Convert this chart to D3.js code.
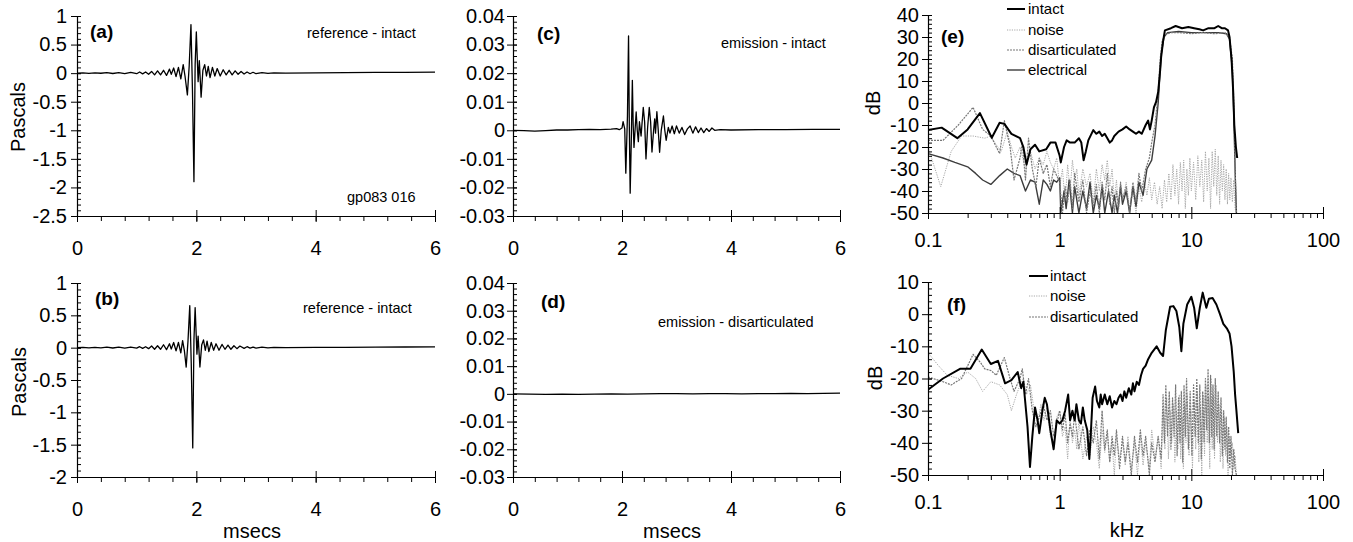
<!DOCTYPE html>
<html><head><meta charset="utf-8">
<script src="https://cdn.jsdelivr.net/npm/d3@7"></script>
<style>
body{margin:0;background:#fff;}
svg{display:block;font-family:"Liberation Sans",Arial,Helvetica,sans-serif;}
</style></head><body>
<svg id="c" width="1353" height="542"></svg>
<script>
// ---------- DATA ----------
const timeTicks = [0, 2, 4, 6];
const pascalTicksA = [1, 0.5, 0, -0.5, -1, -1.5, -2, -2.5];
const pascalTicksB = [1, 0.5, 0, -0.5, -1, -1.5, -2];
const emissionTicks = [0.04, 0.03, 0.02, 0.01, 0, -0.01, -0.02, -0.03];
const freqTicks = [0.1, 1, 10, 100];
const dbTicksE = [40, 30, 20, 10, 0, -10, -20, -30, -40, -50];
const dbTicksF = [10, 0, -10, -20, -30, -40, -50];
const legendE = ["intact", "noise", "disarticulated", "electrical"];
const legendF = ["intact", "noise", "disarticulated"];

// panel (a): [msec, Pascals]
const refIntactA = [[0,0],[0.1,0.005],[0.2,-0.005],[0.3,0.006],[0.4,-0.002],[0.5,0.01],[0.6,-0.006],[0.7,0.01],[0.8,-0.01],[0.9,0.012],[1.0,-0.01],[1.05,0.02],[1.1,-0.012],[1.15,0.02],[1.2,-0.02],[1.25,0.03],[1.3,-0.03],[1.35,0.04],[1.4,-0.03],[1.45,0.05],[1.5,-0.04],[1.55,0.07],[1.58,-0.02],[1.62,0.09],[1.66,-0.06],[1.7,0.1],[1.74,-0.1],[1.78,0.15],[1.81,-0.05],[1.85,-0.38],[1.88,0.12],[1.91,0.85],[1.935,-0.3],[1.96,-1.9],[1.98,0.15],[2.0,0.72],[2.03,-0.15],[2.05,0.22],[2.08,-0.42],[2.11,0.05],[2.14,0.15],[2.17,-0.05],[2.2,0.12],[2.23,-0.08],[2.27,0.1],[2.31,-0.05],[2.35,0.08],[2.4,-0.05],[2.45,0.06],[2.5,-0.03],[2.55,0.05],[2.6,-0.03],[2.65,0.04],[2.7,-0.02],[2.75,0.03],[2.8,-0.015],[2.85,0.02],[2.9,-0.01],[2.95,0.015],[3.0,-0.01],[3.1,0.01],[3.2,-0.005],[3.3,0.004],[3.5,0.002],[4.0,0.006],[4.5,0.01],[5.0,0.012],[5.5,0.015],[6.0,0.018]];
// panel (b)
const refIntactB = [[0,0],[0.1,0.004],[0.2,-0.004],[0.3,0.005],[0.4,-0.002],[0.5,0.008],[0.6,-0.005],[0.7,0.008],[0.8,-0.008],[0.9,0.01],[1.0,-0.008],[1.05,0.015],[1.1,-0.01],[1.15,0.015],[1.2,-0.015],[1.25,0.025],[1.3,-0.025],[1.35,0.03],[1.4,-0.025],[1.45,0.045],[1.5,-0.03],[1.55,0.06],[1.58,-0.02],[1.62,0.08],[1.66,-0.05],[1.7,0.08],[1.74,-0.08],[1.77,0.11],[1.8,-0.05],[1.83,-0.3],[1.86,0.1],[1.89,0.65],[1.915,-0.25],[1.94,-1.55],[1.96,0.12],[1.98,0.62],[2.01,-0.1],[2.03,0.18],[2.06,-0.3],[2.09,0.04],[2.12,0.12],[2.15,-0.04],[2.18,0.1],[2.21,-0.06],[2.25,0.08],[2.29,-0.04],[2.33,0.06],[2.38,-0.04],[2.43,0.05],[2.48,-0.025],[2.53,0.04],[2.58,-0.025],[2.63,0.03],[2.68,-0.015],[2.73,0.025],[2.8,-0.01],[2.85,0.015],[2.9,-0.008],[2.95,0.01],[3.0,-0.006],[3.1,0.008],[3.2,-0.004],[3.3,0.003],[3.5,0.002],[4.0,0.004],[4.5,0.006],[5.0,0.008],[5.5,0.01],[6.0,0.012]];
// panel (c): [msec, Pascals]
const emissionIntact = [[0,0],[0.2,-0.0001],[0.4,-0.0003],[0.6,-0.0001],[0.8,0.0001],[1.0,0.0001],[1.2,0.0002],[1.4,0.0003],[1.6,0.0002],[1.8,0.0004],[1.9,0.0006],[1.95,0.0002],[2.0,0.0008],[2.02,0.003],[2.05,0.0005],[2.07,-0.015],[2.1,0.005],[2.12,0.033],[2.135,0.0],[2.15,-0.022],[2.17,-0.004],[2.19,0.0175],[2.205,0.002],[2.22,-0.006],[2.26,0.0064],[2.28,0.0],[2.3,-0.004],[2.32,0.003],[2.35,-0.002],[2.39,0.008],[2.415,0.003],[2.44,-0.010],[2.47,0.001],[2.5,0.008],[2.525,0.003],[2.55,-0.0076],[2.58,0.0],[2.6,0.004],[2.615,-0.001],[2.64,0.0065],[2.665,0.0],[2.69,-0.0077],[2.72,0.0],[2.76,0.005],[2.785,0.0],[2.81,-0.0035],[2.85,0.001],[2.88,-0.001],[2.92,0.0015],[2.96,-0.0012],[3.0,0.0015],[3.05,-0.001],[3.1,0.001],[3.15,-0.0015],[3.2,0.0005],[3.25,0.0015],[3.3,-0.001],[3.35,0.0012],[3.4,-0.0008],[3.45,0.0008],[3.5,-0.0008],[3.55,0.0006],[3.6,-0.0004],[3.65,0.0008],[3.7,0.0],[3.8,0.0002],[4.0,0.0001],[4.5,0.0002],[5.0,0.0002],[5.5,0.0003],[6.0,0.0003]];
// panel (d)
const emissionDisart = [[0,0],[0.3,-0.0001],[0.6,-0.0002],[0.9,-0.0001],[1.2,-0.0002],[1.5,-0.0001],[1.8,0.0],[2.1,-0.0001],[2.4,0.0],[2.7,0.0001],[3.0,0.0001],[3.3,0.0],[3.6,0.0001],[3.9,0.0001],[4.2,0.0],[4.5,0.0001],[4.8,0.0001],[5.1,0.0002],[5.4,0.0001],[5.7,0.0002],[6.0,0.0003]];

// panel (e): [kHz, dB]
const eIntact = [[0.1,-12.3],[0.127,-11.2],[0.167,-16],[0.2,-12],[0.248,-4.6],[0.305,-15.8],[0.35,-9],[0.38,-9.5],[0.43,-14],[0.5,-16],[0.53,-20],[0.56,-28],[0.6,-21],[0.65,-19],[0.7,-22],[0.79,-21],[0.85,-18],[0.93,-18],[1.0,-24],[1.02,-27],[1.08,-20],[1.13,-17],[1.2,-18],[1.3,-18],[1.4,-16],[1.46,-18],[1.52,-26],[1.58,-22],[1.65,-17],[1.8,-12.3],[1.9,-14],[2.0,-13],[2.1,-15],[2.2,-14],[2.4,-18],[2.5,-17],[2.6,-15],[2.8,-13],[3.0,-12],[3.2,-10.7],[3.4,-12],[3.6,-13],[3.8,-14],[4.0,-13],[4.2,-14],[4.5,-10],[4.7,-8],[4.85,-12],[5.0,-8],[5.2,-2],[5.4,0.5],[5.6,5],[5.8,15],[5.9,21],[6.1,28],[6.3,33],[7,34],[7.6,35],[8.5,34],[9.5,34.5],[10.5,34],[11.5,33.5],[12.3,33],[13.5,34],[15,34],[16,35],[17,34],[18,34],[19,33],[19.5,30],[20.2,20],[20.8,5],[21.2,-10],[21.8,-20],[22.3,-25]];
const eNoise = [[0.1,-20],[0.125,-38],[0.15,-22],[0.18,-15],[0.22,-15],[0.27,-16],[0.3,-15],[0.33,-19],[0.36,-22],[0.4,-13],[0.43,-20],[0.46,-25],[0.5,-20],[0.55,-30],[0.6,-22],[0.65,-30],[0.7,-25],[0.75,-28],[0.8,-22],[0.85,-27],[0.9,-30],[0.95,-25],[1.0,-38],[1.05,-30],[1.1,-45],[1.15,-28],[1.2,-40],[1.25,-26],[1.3,-35],[1.35,-30],[1.4,-42],[1.5,-30],[1.6,-38],[1.7,-32],[1.8,-45],[1.9,-30],[2.0,-40],[2.1,-28],[2.2,-35],[2.3,-26],[2.4,-38],[2.5,-30],[2.6,-44],[2.7,-35],[2.8,-48],[2.9,-38],[3.0,-45],[3.2,-36],[3.4,-48],[3.6,-40],[3.8,-50],[4.0,-38],[4.2,-45],[4.4,-36],[4.6,-42],[4.8,-34],[5.0,-44],[5.25,-36],[5.5,-46],[5.75,-38],[6.0,-48],[6.25,-35],[6.5,-45],[6.75,-32],[7.0,-44],[7.25,-28],[7.5,-42],[7.75,-30],[8.0,-46],[8.25,-27],[8.5,-40],[8.75,-26],[9.0,-48],[9.25,-30],[9.5,-42],[9.75,-25],[10.0,-40],[10.4,-27],[10.8,-44],[11.2,-24],[11.6,-38],[12.0,-26],[12.4,-45],[12.8,-22],[13.2,-40],[13.6,-25],[14.0,-48],[14.4,-22],[14.8,-38],[15.2,-21],[15.6,-42],[16.0,-24],[16.4,-46],[16.8,-26],[17.2,-40],[17.6,-28],[18.0,-44],[18.4,-30],[18.8,-46],[19.2,-32],[19.6,-44],[20.0,-34],[20.5,-45],[21.0,-35],[21.5,-48],[22.0,-50]];
const eDisart = [[0.1,-17],[0.13,-17],[0.17,-10],[0.22,-2],[0.26,-12],[0.3,-15],[0.35,-23],[0.38,-8],[0.42,-20],[0.45,-35],[0.5,-25],[0.52,-18],[0.55,-35],[0.58,-16],[0.62,-30],[0.66,-38],[0.7,-25],[0.75,-32],[0.8,-28],[0.85,-38],[0.9,-30],[1.0,-36],[1.05,-50],[1.1,-38],[1.15,-45],[1.2,-35],[1.25,-48],[1.3,-32],[1.4,-45],[1.5,-35],[1.6,-50],[1.7,-40],[1.8,-47],[1.9,-37],[2.0,-50],[2.1,-36],[2.2,-44],[2.3,-32],[2.4,-46],[2.5,-38],[2.6,-50],[2.7,-40],[2.8,-48],[2.9,-36],[3.0,-44],[3.2,-38],[3.4,-50],[3.6,-36],[3.8,-45],[4.0,-32],[4.2,-40],[4.5,-30],[4.8,-25],[5.0,-18],[5.3,-10],[5.6,5],[5.8,20],[6.0,28],[6.3,31],[7,32],[8,32],[10,31.5],[12,32],[15,31.5],[18,32],[19.5,30],[20.5,20],[21,0],[21.5,-30],[22,-50]];
const eElectrical = [[0.1,-23],[0.13,-25],[0.16,-27],[0.2,-29],[0.23,-32],[0.26,-35],[0.3,-37],[0.35,-33],[0.4,-30],[0.45,-32],[0.5,-33],[0.55,-40],[0.6,-35],[0.65,-36],[0.7,-46],[0.75,-35],[0.8,-37],[0.85,-40],[0.9,-35],[0.95,-36],[1.0,-34],[1.02,-50],[1.08,-40],[1.12,-48],[1.18,-35],[1.25,-50],[1.3,-38],[1.4,-50],[1.5,-40],[1.6,-48],[1.7,-36],[1.8,-50],[1.9,-42],[2.0,-48],[2.1,-38],[2.2,-50],[2.35,-40],[2.5,-50],[2.6,-42],[2.75,-50],[2.9,-38],[3.0,-46],[3.2,-40],[3.4,-50],[3.6,-38],[3.8,-47],[4.0,-36],[4.3,-42],[4.6,-30],[5.0,-26],[5.3,-15],[5.6,0],[5.9,22],[6.2,30],[6.6,32],[8,32.5],[10,32],[13,32],[16,32],[18.5,31.5],[19.5,29],[20.5,15],[21,-5],[21.6,-35],[22,-50]];

// panel (f): [kHz, dB]
const fIntact = [[0.1,-23.5],[0.13,-20],[0.175,-17],[0.21,-17],[0.256,-11],[0.3,-15.5],[0.34,-14.5],[0.385,-21.5],[0.43,-20.5],[0.48,-18],[0.51,-23],[0.53,-21],[0.57,-35],[0.595,-47.5],[0.62,-38],[0.65,-29],[0.68,-33],[0.7,-37],[0.74,-30],[0.77,-26],[0.8,-28],[0.85,-36],[0.9,-42],[0.95,-33],[1.0,-34],[1.05,-33],[1.1,-30],[1.16,-25],[1.2,-33],[1.25,-30],[1.3,-33],[1.34,-28],[1.4,-33],[1.45,-34],[1.5,-29],[1.55,-33],[1.62,-36],[1.68,-45],[1.72,-38],[1.78,-26],[1.86,-22.5],[1.92,-27],[2.0,-29],[2.05,-25],[2.1,-28],[2.2,-25],[2.3,-28],[2.4,-25.5],[2.5,-29],[2.6,-27],[2.7,-28],[2.8,-26],[2.9,-25],[3.0,-27],[3.1,-24],[3.2,-26],[3.35,-23],[3.5,-25],[3.6,-21.5],[3.7,-24],[3.85,-21],[4.0,-22],[4.15,-19],[4.3,-17],[4.5,-16],[4.7,-14],[5.0,-12],[5.45,-10],[5.8,-12],[6.1,-13],[6.4,-5],[6.9,2.3],[7.3,2.5],[7.7,1],[8.1,-4],[8.4,-11.5],[8.7,-3],[9.3,3],[10,5.4],[10.5,2],[11,-4.4],[11.6,2],[12.2,6.7],[13,2],[13.6,4.8],[14.5,5],[15.5,3],[16.5,0],[17.5,-3],[18.6,-4.4],[19.5,-6],[20.2,-10],[21,-18],[21.5,-25],[22,-30],[22.7,-37]];
const fNoise = [[0.1,-12],[0.12,-16],[0.14,-19],[0.17,-20],[0.2,-18],[0.23,-20],[0.26,-24],[0.3,-21],[0.35,-22],[0.4,-25],[0.43,-30],[0.47,-25],[0.5,-22],[0.53,-20],[0.56,-25],[0.6,-22],[0.64,-30],[0.68,-34],[0.72,-28],[0.76,-33],[0.8,-29],[0.85,-38],[0.9,-40],[0.95,-32],[1.0,-30],[1.05,-38],[1.1,-35],[1.15,-45],[1.2,-32],[1.25,-40],[1.3,-36],[1.35,-42],[1.4,-33],[1.5,-45],[1.6,-38],[1.7,-44],[1.8,-35],[1.9,-40],[2.0,-48],[2.1,-36],[2.2,-43],[2.3,-37],[2.4,-46],[2.5,-40],[2.6,-50],[2.7,-38],[2.85,-45],[3.0,-40],[3.15,-47],[3.3,-38],[3.5,-48],[3.7,-40],[3.9,-50],[4.1,-38],[4.3,-47],[4.5,-40],[4.8,-48],[5.0,-36],[5.3,-45],[5.6,-38],[5.9,-48],[6.1,-30],[6.3,-42],[6.5,-26],[6.7,-45],[6.9,-30],[7.1,-40],[7.3,-28],[7.5,-46],[7.7,-30],[7.9,-42],[8.1,-25],[8.3,-45],[8.5,-32],[8.7,-48],[8.9,-28],[9.1,-40],[9.3,-25],[9.6,-44],[9.9,-30],[10.2,-48],[10.5,-27],[10.8,-42],[11.1,-24],[11.4,-46],[11.7,-28],[12,-50],[12.3,-25],[12.6,-44],[12.9,-22],[13.2,-40],[13.5,-26],[13.8,-48],[14.1,-20],[14.4,-42],[14.7,-25],[15,-45],[15.4,-22],[15.8,-40],[16.2,-28],[16.6,-46],[17,-30],[17.4,-48],[17.8,-32],[18.2,-44],[18.6,-35],[19,-50],[19.5,-38],[20,-45],[20.5,-40],[21,-48],[21.5,-44],[22,-50]];
const fDisart = [[0.1,-19.5],[0.13,-21],[0.15,-22],[0.18,-20],[0.22,-12.5],[0.25,-15],[0.27,-17],[0.3,-17.5],[0.33,-19],[0.38,-13.5],[0.42,-20],[0.45,-24],[0.5,-20],[0.52,-17],[0.55,-25],[0.58,-20],[0.62,-30],[0.66,-35],[0.7,-32],[0.75,-28],[0.8,-33],[0.85,-30],[0.9,-38],[0.95,-34],[1.0,-30],[1.05,-36],[1.1,-31],[1.15,-40],[1.2,-34],[1.25,-38],[1.3,-31],[1.4,-42],[1.5,-35],[1.6,-44],[1.7,-36],[1.8,-40],[1.9,-33],[2.0,-45],[2.1,-30],[2.2,-42],[2.3,-36],[2.4,-46],[2.5,-38],[2.6,-44],[2.7,-36],[2.85,-48],[3.0,-38],[3.15,-46],[3.3,-40],[3.5,-50],[3.7,-38],[3.9,-46],[4.1,-36],[4.3,-44],[4.5,-38],[4.8,-50],[5.0,-40],[5.3,-46],[5.6,-38],[5.9,-45],[6.1,-25],[6.25,-40],[6.4,-22],[6.6,-38],[6.8,-24],[7.0,-42],[7.2,-26],[7.4,-38],[7.6,-22],[7.8,-44],[8.0,-26],[8.2,-40],[8.4,-24],[8.6,-46],[8.8,-22],[9.0,-38],[9.2,-20],[9.5,-42],[9.8,-24],[10.1,-44],[10.4,-22],[10.7,-38],[11.0,-20],[11.3,-40],[11.6,-22],[11.9,-45],[12.2,-24],[12.5,-40],[12.8,-20],[13.1,-36],[13.4,-17],[13.7,-40],[14.0,-19],[14.3,-38],[14.6,-22],[14.9,-42],[15.2,-20],[15.6,-38],[16,-24],[16.4,-40],[16.8,-26],[17.2,-44],[17.6,-30],[18,-42],[18.4,-32],[18.8,-46],[19.2,-35],[19.6,-48],[20,-38],[20.5,-50],[21,-42],[21.5,-48],[22,-50]];

// ---------- DRAWING ----------
const svg = d3.select("#c");
const FONT = "Liberation Sans, Arial, sans-serif";
const styles = {
  intact: {stroke:"#000", width:2, dash:null},
  noise: {stroke:"#a8a8a8", width:1, dash:"1.2,1.2"},
  disarticulated: {stroke:"#777", width:1.2, dash:"2,1"},
  electrical: {stroke:"#3c3c3c", width:1.4, dash:null}
};
let clipId = 0;

function panel(opt){
  const g = svg.append("g");
  const x = opt.log ? d3.scaleLog().domain(opt.xd).range(opt.xr) : d3.scaleLinear().domain(opt.xd).range(opt.xr);
  const y = d3.scaleLinear().domain(opt.yd).range(opt.yr);
  const id = "clip" + (clipId++);
  svg.append("clipPath").attr("id", id).append("rect")
    .attr("x", opt.xr[0]).attr("y", opt.yr[1]-2)
    .attr("width", opt.xr[1]-opt.xr[0]).attr("height", opt.yr[0]-opt.yr[1]+2);
  const lg = g.append("g").attr("clip-path", `url(#${id})`);
  opt.series.forEach(s => {
    const st = s.style;
    lg.append("path").datum(s.data)
      .attr("fill","none").attr("stroke", st.stroke).attr("stroke-width", st.width)
      .attr("stroke-dasharray", st.dash).attr("stroke-linejoin","round")
      .attr("d", d3.line().x(d=>x(d[0])).y(d=>y(Math.max(d[1], opt.yd[0]-1))));
  });
  // x axis
  const xa = g.append("g").attr("transform", `translate(0,${opt.yr[0]})`);
  xa.call(d3.axisBottom(x).tickValues(opt.xMinor).tickSize(5).tickFormat(""));
  xa.select(".domain").remove();
  const xM = g.append("g").attr("transform", `translate(0,${opt.yr[0]})`);
  xM.call(d3.axisBottom(x).tickValues(opt.xTicks).tickSize(6).tickSizeOuter(0).tickPadding(opt.xPad).tickFormat(opt.xFmt || (d=>d)));
  xM.selectAll(".tick line").attr("y1", -6);
  xM.selectAll("text").attr("font-size", 20).attr("font-family", FONT).attr("fill","#000");
  xM.select(".domain").attr("stroke-width",1.2);
  // y axis
  const ya = g.append("g").attr("transform", `translate(${opt.xr[0]},0)`);
  ya.call(d3.axisRight(y).tickValues(opt.yMinor).tickSize(4).tickFormat(""));
  ya.select(".domain").remove();
  const yM = g.append("g").attr("transform", `translate(${opt.xr[0]},0)`);
  yM.call(d3.axisLeft(y).tickValues(opt.yTicks).tickSize(6).tickSizeOuter(0).tickPadding(opt.yPad).tickFormat(opt.yFmt || (d=>d)));
  yM.selectAll(".tick line").attr("x1", 4);
  yM.selectAll("text").attr("font-size", 20).attr("font-family", FONT).attr("fill","#000");
  yM.select(".domain").attr("stroke-width",1.2);
  g.selectAll(".tick line").attr("stroke","#000");
  return {g, x, y};
}

function range(a, b, step){ const r=[]; for(let v=a; v<=b+1e-9; v+=step) r.push(+v.toFixed(6)); return r; }
const logMinor = [];
[0.1,1,10].forEach(d => { for(let k=2;k<=9;k++) logMinor.push(+(d*k).toFixed(4)); });
const fmtSigned = d => d < 0 ? "-" + String(Math.abs(d)) : String(d);

// (a)
panel({xd:[0,6], xr:[77,435], yd:[-2.5,1], yr:[216,16], xTicks:timeTicks, xMinor:range(0,6,0.4), xPad:19,
  yTicks:pascalTicksA, yMinor:range(-2.5,1,0.1), yPad:4, yFmt:fmtSigned,
  series:[{data:refIntactA, style:{stroke:"#000", width:1.3}}]});
// (b)
panel({xd:[0,6], xr:[77,435], yd:[-2,1], yr:[477,283], xTicks:timeTicks, xMinor:range(0,6,0.4), xPad:19,
  yTicks:pascalTicksB, yMinor:range(-2,1,0.1), yPad:4, yFmt:fmtSigned,
  series:[{data:refIntactB, style:{stroke:"#000", width:1.3}}]});
// (c)
panel({xd:[0,6], xr:[513,840], yd:[-0.03,0.04], yr:[216,16], xTicks:timeTicks, xMinor:range(0,6,0.4), xPad:19,
  yTicks:emissionTicks, yMinor:range(-0.03,0.04,0.002), yPad:2, yFmt:fmtSigned,
  series:[{data:emissionIntact, style:{stroke:"#000", width:1.3}}]});
// (d)
panel({xd:[0,6], xr:[513,840], yd:[-0.03,0.04], yr:[477,283], xTicks:timeTicks, xMinor:range(0,6,0.4), xPad:19,
  yTicks:emissionTicks, yMinor:range(-0.03,0.04,0.002), yPad:2, yFmt:fmtSigned,
  series:[{data:emissionDisart, style:{stroke:"#000", width:1.3}}]});
// (e)
panel({log:true, xd:[0.1,100], xr:[928,1323], yd:[-50,40], yr:[213,15], xTicks:freqTicks, xMinor:logMinor, xPad:14,
  xFmt:d=>String(d), yTicks:dbTicksE, yMinor:range(-50,40,2), yPad:3, yFmt:fmtSigned,
  series:[{data:eNoise, style:styles.noise},{data:eElectrical, style:styles.electrical},
          {data:eDisart, style:styles.disarticulated},{data:eIntact, style:styles.intact}]});
// (f)
panel({log:true, xd:[0.1,100], xr:[928,1323], yd:[-50,10], yr:[475,282], xTicks:freqTicks, xMinor:logMinor, xPad:14,
  xFmt:d=>String(d), yTicks:dbTicksF, yMinor:range(-50,10,2), yPad:3, yFmt:fmtSigned,
  series:[{data:fNoise, style:styles.noise},{data:fDisart, style:styles.disarticulated},
          {data:fIntact, style:styles.intact}]});

// ---------- TEXT ----------
function txt(s, x, y, size, opts={}){
  const t = svg.append("text").attr("x",x).attr("y",y).attr("font-size",size)
    .attr("font-family",FONT).attr("fill","#000").text(s);
  if(opts.bold) t.attr("font-weight","bold");
  if(opts.anchor) t.attr("text-anchor",opts.anchor);
  if(opts.rot) t.attr("transform",`rotate(-90,${x},${y})`);
  return t;
}
txt("(a)", 90, 38, 19, {bold:true});
txt("(b)", 95, 305, 19, {bold:true});
txt("(c)", 537, 40, 19, {bold:true});
txt("(d)", 541, 308, 19, {bold:true});
txt("(e)", 941, 43, 19, {bold:true});
txt("(f)", 947, 311, 19, {bold:true});
txt("reference - intact", 307, 38, 14.5);
txt("reference - intact", 303, 313, 14.5);
txt("emission - intact", 721, 48, 14.5);
txt("emission - disarticulated", 658, 327, 14.5);
txt("gp083 016", 347, 202, 14.5);
txt("Pascals", 25, 117, 20, {anchor:"middle", rot:true});
txt("Pascals", 26, 382, 20, {anchor:"middle", rot:true});
txt("dB", 880, 103, 20, {anchor:"middle", rot:true});
txt("dB", 882, 378, 20, {anchor:"middle", rot:true});
txt("msecs", 252, 538, 20, {anchor:"middle"});
txt("msecs", 672, 538, 20, {anchor:"middle"});
txt("kHz", 1127, 537, 20, {anchor:"middle"});

// legends
function legend(names, x0, x1, tx, baselines){
  names.forEach((n,i) => {
    const st = styles[n];
    const yy = baselines[i] - 5;
    svg.append("line").attr("x1",x0).attr("x2",x1).attr("y1",yy).attr("y2",yy)
      .attr("stroke",st.stroke).attr("stroke-width",st.width).attr("stroke-dasharray",st.dash);
    txt(n, tx, baselines[i], 15);
  });
}
legend(legendE, 1007, 1025, 1028, [14, 35, 55, 75]);
legend(legendF, 1029, 1048, 1050, [281, 301, 322]);
</script></body></html>
